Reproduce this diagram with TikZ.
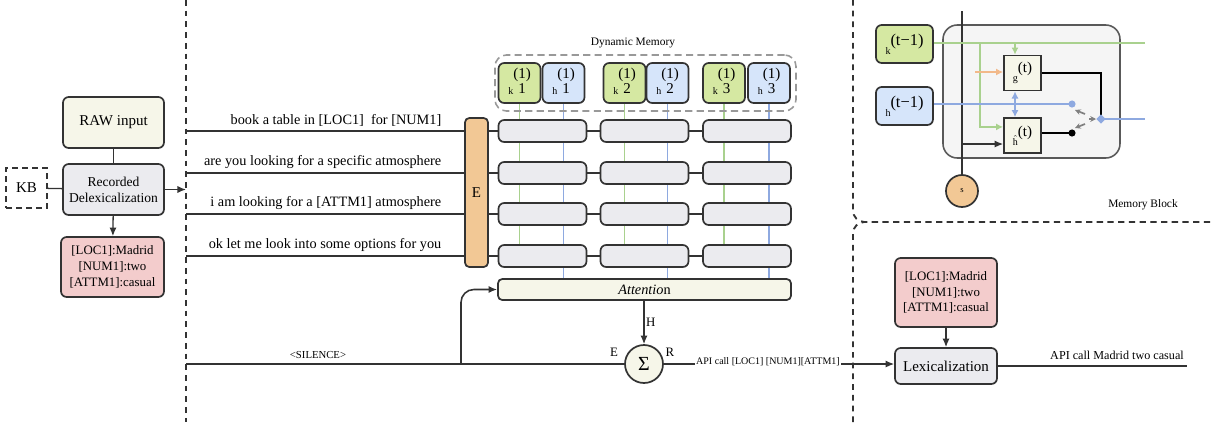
\documentclass[tikz,border=0pt]{standalone}
\usepackage{amsmath}
\usepackage{fontspec}
\setmainfont{Liberation Serif}
\usetikzlibrary{arrows.meta,positioning,backgrounds}

\definecolor{rawcol}{HTML}{F6F6E9}
\definecolor{cellcol}{HTML}{EBEBEF}
\definecolor{slotcol}{HTML}{F3CCCC}
\definecolor{embcol}{HTML}{F2C895}
\definecolor{keycol}{HTML}{D5E8A2}
\definecolor{valcol}{HTML}{D6E5FA}
\definecolor{keyline}{HTML}{A9D18E}
\definecolor{valline}{HTML}{8EA9E0}
\definecolor{gatecol}{HTML}{F2B98A}
\definecolor{edgecol}{HTML}{333333}

\tikzset{
  dims/.style 2 args={minimum width=#1*0.7pt, minimum height=#2*0.7pt},
  blk/.style={draw=edgecol, line width=1.2pt, rounded corners=4pt, inner sep=1pt,
              align=center, font=\fontsize{9.5}{11}\selectfont},
  cell/.style={blk, fill=cellcol, dims={88}{22}},
  slot/.style={blk, dims={42}{40}, inner sep=0pt, font=\fontsize{10.5}{10.5}\selectfont},
  gatebox/.style={draw=edgecol, line width=1.2pt, fill=rawcol, dims={37}{35}, inner sep=0pt,
              font=\fontsize{10.5}{11}\selectfont},
  wire/.style={line width=0.9pt, draw=edgecol},
  arr/.style={wire, -{Latex[length=6pt,width=5pt]}},
  divider/.style={draw=edgecol, line width=1.3pt, dash pattern=on 4pt off 3.5pt},
  keyw/.style={draw=keyline, line width=0.8pt},
  valw/.style={draw=valline, line width=0.8pt},
  lbl/.style={inner sep=1pt, font=\fontsize{8}{9}\selectfont}
}
\newcommand{\slotlbl}[2]{\raisebox{-1.1ex}{\scriptsize #1}\begin{tabular}{@{}c@{}}(1)\\#2\end{tabular}}

\begin{document}
\begin{tikzpicture}[x=0.7pt,y=-0.7pt]
\useasboundingbox (0,0) rectangle (1212,422);

% Dividers
\draw[divider] (186,0) -- (186,422);
\draw[divider, rounded corners=8pt] (853,0) |- (1212,222);
\draw[divider, rounded corners=8pt] (853,422) |- (1212,222);

% Delexicalization
\node[blk, fill=rawcol, dims={101}{51}, font=\fontsize{10.5}{12}\selectfont] (raw) at (113.5,122.5) {RAW input};
\node[blk, fill=cellcol, dims={101}{51}] (delex) at (113.5,189.5) {Recorded\\Delexicalization};
\node[blk, fill=slotcol, dims={103}{60}, font=\fontsize{9}{11}\selectfont] (vals) at (112.5,267) {[LOC1]:Madrid\\{[NUM1]:two}\\{[ATTM1]:casual}};
\node[blk, dash pattern=on 4pt off 3pt, rounded corners=0pt, dims={41}{40}, font=\fontsize{10.5}{12}\selectfont] (kb) at (26.5,188) {KB};
\draw[wire] (raw) -- (delex);
\draw[wire] (kb) -- (delex);
\draw[arr] (delex) -- (vals);
\coordinate (in) at (186,189.5);
\draw[arr] (delex) -- (in);

% Encoder
\node[blk, fill=embcol, dims={23}{149}, rounded corners=3pt, font=\fontsize{10.5}{12}\selectfont] (emb) at (476.5,192.5) {E};
\foreach \y/\txt [count=\i] in {131/{book a table in [LOC1]\ \ for [NUM1]},
                                 173/{are you looking for a specific atmosphere},
                                 214/{i am looking for a [ATTM1] atmosphere},
                                 256/{ok let me look into some options for you}} {
  \coordinate (u\i) at (186,\y);
  \draw[wire] (u\i) -- (u\i -| emb.west);
  \node[inner sep=1pt, anchor=south east, font=\fontsize{10}{12}\selectfont] (t\i) at (443,\y-3) {\txt};
}

% Memory cells
\foreach \y [count=\r] in {131,173,214,256} {
  \foreach \x [count=\j] in {542.5,644.5,747} {
    \node[cell] (m\r\j) at (\x,\y) {};
  }
  \draw[wire] (emb.east |- m\r1) -- (m\r1);
  \draw[wire] (m\r1) -- (m\r2);
  \draw[wire] (m\r2) -- (m\r3);
}

% Dynamic memory
\node[draw=gray!80, line width=1.1pt, dash pattern=on 5pt off 3pt, rounded corners=8pt, dims={301}{56}] (dyn) at (645.5,83) {};
\node[lbl] (dynt) at (633,43) {Dynamic Memory};
\foreach \xk/\xh [count=\j] in {519.5/563.5, 624.5/667.5, 724/769} {
  \node[slot, fill=keycol] (k\j) at (\xk,83) {\slotlbl{k}{\j}};
  \node[slot, fill=valcol] (h\j) at (\xh,83) {\slotlbl{h}{\j}};
}

% Attention
\node[blk, fill=rawcol, dims={293}{21}, rounded corners=3pt, font=\fontsize{10}{12}\selectfont] (att) at (644.5,289.5) {\textit{Attentio}n};
\begin{scope}[on background layer]
  \foreach \j in {1,2,3} {
    \draw[keyw] (k\j) -- (k\j |- m4\j.north);
    \draw[valw] (h\j) -- (h\j |- att.north);
  }
\end{scope}

% Decoder
\node[circle, draw=edgecol, line width=1.2pt, fill=rawcol, minimum size=38*0.7pt, inner sep=0pt, font=\fontsize{14}{14}\selectfont] (sig) at (644,364) {Σ};
\draw[arr] (att.south -| sig) -- (sig) node[midway, right, lbl, font=\fontsize{9}{10}\selectfont] {H};
\node[lbl, font=\fontsize{9}{10}\selectfont] (elbl) at (614,352) {E};
\node[lbl, font=\fontsize{9}{10}\selectfont] (rlbl) at (670,352) {R};
\coordinate (sil) at (186,364);
\draw[wire] (sil) -- (sig);
\node[lbl, anchor=south, font=\fontsize{7.5}{9}\selectfont] (silt) at (318,360) {<SILENCE>};
\coordinate (br) at (461,364);
\draw[arr, line width=1.1pt, rounded corners=9pt] (br) |- (att.west);

% Lexicalization
\node[blk, fill=slotcol, dims={102}{69}, font=\fontsize{9}{11}\selectfont] (vals2) at (946,292.5) {[LOC1]:Madrid\\{[NUM1]:two}\\{[ATTM1]:casual}};
\node[blk, fill=cellcol, dims={102}{36}, font=\fontsize{10.5}{12}\selectfont] (lex) at (946,366) {Lexicalization};
\draw[arr] (vals2) -- (lex);
\draw[arr] (sig.east) -- (sig.east -| lex.west);
\node[fill=white, inner sep=1pt, font=\fontsize{7}{8}\selectfont] (apid) at (768,362) {API call [LOC1] [NUM1][ATTM1]};
\coordinate (out) at (1187,366);
\draw[wire, line width=1.1pt] (lex) -- (out);
\node[lbl, font=\fontsize{8.5}{10}\selectfont] (outt) at (1117,355) {API call Madrid two casual};

% Memory block
\node[draw=gray!70!black, line width=1.1pt, fill=gray!8, rounded corners=10pt, dims={177}{133}] (mb) at (1031.5,91.5) {};
\node[blk, fill=keycol, dims={57}{38}, font=\fontsize{11.5}{12}\selectfont] (kp) at (904.5,44) {\raisebox{-.7ex}{\scriptsize k}\raisebox{.5ex}{(t−1)}};
\node[blk, fill=valcol, dims={57}{38}, font=\fontsize{11.5}{12}\selectfont] (hp) at (904.5,106) {\raisebox{-.7ex}{\scriptsize h}\raisebox{.5ex}{(t−1)}};
\node[gatebox] (gt) at (1022.5,73) {\raisebox{-.8ex}{\scriptsize g}\raisebox{.5ex}{(t)}};
\node[gatebox] (hh) at (1022.5,135.5) {\raisebox{-.8ex}{\scriptsize$\hat{\text{h}}$}\raisebox{.5ex}{(t)}};
\node[circle, draw=edgecol, line width=1.2pt, fill=embcol, minimum size=32*0.7pt, inner sep=0pt, font=\fontsize{6}{7}\selectfont] (s) at (962,191) {s};
\coordinate (top) at (962,11);
\draw[wire, line width=1.1pt] (top) -- (s);
\coordinate (kend) at (1145,43);
\coordinate (kb1) at (980,43);
\coordinate (kb2) at (1015,43);
\draw[keyw, line width=1.1pt] (kp.east |- kend) -- (kend);
\draw[keyw, line width=1.1pt, -{Latex[length=5pt,width=5pt]}] (kb1) |- ([yshift=6pt]hh.west);
\draw[keyw, line width=1.1pt, -{Latex[length=5pt,width=5pt]}] (kb2) -- (kb2 |- gt.north);
\coordinate (oin) at (975,72);
\draw[gatecol, line width=1.1pt, -{Latex[length=5pt,width=5pt]}] (oin) -- (oin -| gt.west);
\coordinate (hdot) at (1072,104);
\draw[valw, line width=1.1pt] (hp.east |- hdot) -- (hdot);
\fill[valline] (hdot) circle (2.5pt);
\draw[valw, line width=1.1pt, {Latex[length=5pt,width=5pt]}-{Latex[length=5pt,width=5pt]}] (kb2 |- gt.south) -- (kb2 |- hh.north);
\coordinate (jn) at (1101,119);
\coordinate (vend) at (1145,119);
\draw[wire, line width=1.2pt, black] (gt.east) -| (jn);
\draw[valw, line width=1.1pt] (jn) -- (vend);
\node[fill=valline, rotate=45, minimum size=4.5pt, inner sep=0pt] (jd) at (jn) {};
\coordinate (bdot) at (1072,133);
\draw[wire, line width=1.2pt, black] (hh.east |- bdot) -- (bdot);
\fill (bdot) circle (2.5pt);
\coordinate (sin) at (962,144);
\draw[arr] (sin) -- (sin -| hh.west);
% switch
\coordinate (sw1) at (1085,114);
\coordinate (sw2) at (1085,124);
\coordinate (sw3) at (1089,119);
\draw[gray, line width=1.2pt, -{Stealth[length=4pt,width=4pt]}] (sw1) -- (1075,110);
\draw[gray, line width=1.2pt, -{Stealth[length=4pt,width=4pt]}] (sw2) -- (1075,128);
\draw[gray, line width=1.2pt, -{Stealth[length=4pt,width=4pt]}] (sw3) -- (1096,119);
\node[lbl] (mbt) at (1143,205) {Memory Block};
\end{tikzpicture}
\end{document}
